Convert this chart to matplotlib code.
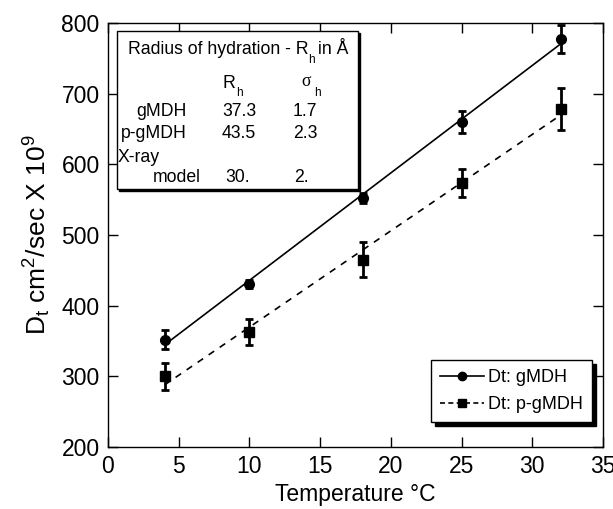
import numpy as np
import matplotlib
matplotlib.use("Agg")
import matplotlib.pyplot as plt
from matplotlib.lines import Line2D
from matplotlib.patches import Rectangle

plt.rcParams['font.family'] = ['Liberation Sans', 'DejaVu Sans']
plt.rcParams['mathtext.fontset'] = 'custom'
plt.rcParams['mathtext.rm'] = 'Liberation Sans'
plt.rcParams['mathtext.it'] = 'Liberation Sans'

temperature = [4, 10, 18, 25, 32]
dt_gmdh = [352, 431, 552, 660, 777]
err_gmdh = [13, 6, 7, 15, 20]
dt_pgmdh = [300, 363, 465, 574, 678]
err_pgmdh = [19, 18, 25, 20, 30]

table_rows = ["gMDH", "p-gMDH"]
table_rh = ["37.3", "43.5"]
table_sigma = ["1.7", "2.3"]
model_rh = "30."
model_sigma = "2."

W, H = 613, 509
fig = plt.figure(figsize=(W / 100, H / 100), dpi=100)
ax = fig.add_axes([108 / W, 1 - 447 / H, (603 - 108) / W, (447 - 23) / H])

x = np.array(temperature, dtype=float)
xx = np.array([x.min(), x.max()])
p1 = np.polyfit(x, dt_gmdh, 1)
p2 = np.polyfit(x, dt_pgmdh, 1)
ax.plot(xx, np.polyval(p1, xx), color='black', lw=1.2, ls='-')
ax.plot(xx, np.polyval(p2, xx), color='black', lw=1.2, ls=(0, (4, 4)))

ax.errorbar(temperature, dt_gmdh, yerr=err_gmdh, fmt='o', color='black', ms=7,
            capsize=3, elinewidth=2, capthick=2)
ax.errorbar(temperature, dt_pgmdh, yerr=err_pgmdh, fmt='s', color='black', ms=6.5,
            capsize=3, elinewidth=2, capthick=2)

ax.set_xlim(0, 35)
ax.set_ylim(200, 800)
ax.set_xticks(np.arange(0, 36, 5))
ax.set_yticks(np.arange(200, 801, 100))
ax.tick_params(direction='in', length=7, width=1, top=True, right=True,
               labelsize=16.5, pad=6)
for s in ax.spines.values():
    s.set_linewidth(1)

ax.set_xlabel('Temperature °C', fontsize=16.5, labelpad=3)
ax.set_ylabel(r'D$_\mathregular{t}$ cm$^\mathregular{2}$/sec X 10$^\mathregular{9}$',
              fontsize=19, labelpad=6)

# inset table
def px(xp, yp):
    return (xp - 108) / (603 - 108), (447 - yp) / (447 - 23)

tr = ax.transAxes
bx0, by0 = px(117, 189)
bx1, by1 = px(358, 31)
shadow = Rectangle((bx0 + 0.004, by0 - 0.005), bx1 - bx0, by1 - by0, transform=tr,
                   facecolor='black', edgecolor='black', zorder=4)
box = Rectangle((bx0, by0), bx1 - bx0, by1 - by0, transform=tr,
                facecolor='white', edgecolor='black', lw=1, zorder=5)
ax.add_patch(shadow)
ax.add_patch(box)

fs = 12.7
sfs = 8.5

def t(xp, yp, s, size=fs, ha='left', family=None):
    kw = {} if family is None else {'family': family}
    ax.text(*px(xp, yp), s, transform=tr, fontsize=size, va='center', ha=ha,
            zorder=6, **kw)

t(128, 50, 'Radius of hydration - R')
t(308, 60, 'h', sfs)
t(318, 50, 'in Å')
t(222, 83, 'R')
t(236, 93, 'h', sfs)
t(301, 82, 'σ', family=['Liberation Serif', 'DejaVu Serif'])
t(314, 93, 'h', sfs)
row_y = [112, 133]
for name, rh, sg, yy in zip(table_rows, table_rh, table_sigma, row_y):
    t(187, yy, name, ha='right')
    t(222, yy, rh)
    t(293, yy, sg)
t(118, 157, 'X-ray')
t(201, 178, 'model', ha='right')
t(225, 178, model_rh)
t(294, 178, model_sigma)

handles = [Line2D([], [], color='black', marker='o', ms=6, lw=1.2, ls='-'),
           Line2D([], [], color='black', marker='s', ms=5.5, lw=1.2, ls=(0, (3, 2)))]
leg = ax.legend(handles, ['Dt: gMDH', 'Dt: p-gMDH'], loc='lower right',
                bbox_to_anchor=px(592, 422), fontsize=13, frameon=True,
                fancybox=False, shadow={'color': 'black', 'alpha': 1, 'ox': 3, 'oy': -3},
                edgecolor='black',
                framealpha=1, borderpad=0.5, handlelength=2.4, handletextpad=0.25,
                labelspacing=0.55, borderaxespad=0)
leg.get_frame().set_linewidth(1)

fig.savefig('out.png', dpi=100)
